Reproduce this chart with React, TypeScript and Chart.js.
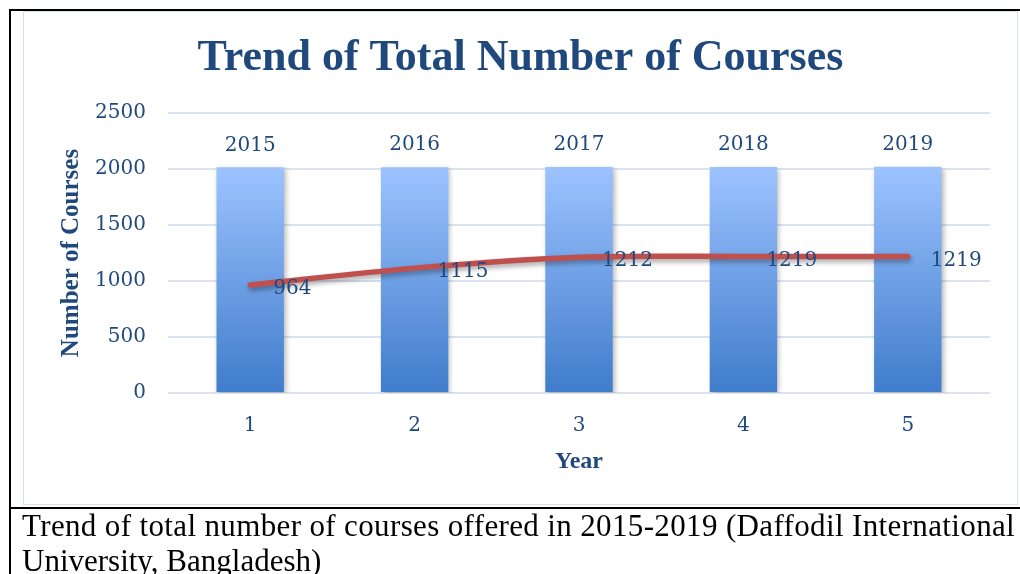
import React, { useEffect, useRef } from "react";
import { Chart, registerables } from "chart.js";

Chart.register(...registerables);

const categories = ["1", "2", "3", "4", "5"];
const yearValues = [2015, 2016, 2017, 2018, 2019];
const courseCounts = [964, 1115, 1212, 1219, 1219];
const yMin = 0;
const yMax = 2500;
const yStep = 500;

const chartTitle = "Trend of Total Number of Courses";
const xTitle = "Year";
const yTitle = "Number of Courses";
const captionLine1 = "Trend of total number of courses offered in 2015-2019 (Daffodil International";
const captionLine2 = "University, Bangladesh)";

const TEXT_BLUE = "#1F497D";
const NUM_FONT = "'DejaVu Serif', serif";
const BOLD_FONT = "'Liberation Serif', serif";

const shadowPlugin = {
  id: "shadows",
  beforeDatasetDraw(chart: any, args: any) {
    const ctx = chart.ctx;
    ctx.save();
    if (args.index === 0) {
      ctx.shadowColor = "rgba(0,0,0,0.28)";
      ctx.shadowBlur = 5;
      ctx.shadowOffsetX = 2;
      ctx.shadowOffsetY = 2;
    } else {
      ctx.shadowColor = "rgba(0,0,0,0.35)";
      ctx.shadowBlur = 5;
      ctx.shadowOffsetX = 1;
      ctx.shadowOffsetY = 3;
    }
  },
  afterDatasetDraw(chart: any) {
    chart.ctx.restore();
  },
};

const labelsPlugin = {
  id: "labels",
  afterDatasetsDraw(chart: any) {
    const ctx = chart.ctx;
    ctx.save();
    ctx.fillStyle = TEXT_BLUE;
    ctx.font = `20px ${NUM_FONT}`;
    const barMeta = chart.getDatasetMeta(0);
    ctx.textAlign = "center";
    ctx.textBaseline = "middle";
    barMeta.data.forEach((el: any, i: number) => {
      ctx.fillText(String(chart.data.datasets[0].data[i]), el.x, el.y - 22);
    });
    const lineMeta = chart.getDatasetMeta(1);
    ctx.textAlign = "left";
    lineMeta.data.forEach((el: any, i: number) => {
      ctx.fillText(String(chart.data.datasets[1].data[i]), el.x + 23, el.y + 4);
    });
    ctx.restore();
  },
  afterDraw(chart: any) {
    const ctx = chart.ctx;
    const area = chart.chartArea;
    ctx.save();
    ctx.fillStyle = TEXT_BLUE;
    ctx.textAlign = "center";
    ctx.textBaseline = "alphabetic";
    ctx.font = `bold 44px ${BOLD_FONT}`;
    ctx.fillText(chartTitle, chart.width / 2, 59);
    ctx.textBaseline = "middle";
    ctx.font = `bold 24px ${BOLD_FONT}`;
    ctx.fillText(xTitle, (area.left + area.right) / 2, 451);
    ctx.translate(49, (area.top + area.bottom) / 2);
    ctx.rotate(-Math.PI / 2);
    ctx.font = `bold 25px ${BOLD_FONT}`;
    ctx.fillText(yTitle, 0, 0);
    ctx.restore();
  },
};

export default function App() {
  const canvasRef = useRef<HTMLCanvasElement>(null);

  useEffect(() => {
    if (!canvasRef.current) return;
    const chart = new Chart(canvasRef.current, {
      type: "bar",
      data: {
        labels: categories,
        datasets: [
          {
            type: "bar",
            data: yearValues,
            order: 2,
            barPercentage: 0.41,
            categoryPercentage: 1,
            backgroundColor: (c: any) => {
              const ch = c.chart;
              const { chartArea, scales } = ch;
              if (!chartArea || !scales.y) return "#6FA0E6";
              const v = yearValues[c.dataIndex ?? 0] ?? yearValues[0];
              const y0 = scales.y.getPixelForValue(0);
              const y1 = scales.y.getPixelForValue(v);
              const g = ch.ctx.createLinearGradient(0, y1, 0, y0);
              g.addColorStop(0, "#9DC3FF");
              g.addColorStop(1, "#3F7CCB");
              return g;
            },
            borderWidth: 0,
          } as any,
          {
            type: "line",
            data: courseCounts,
            order: 1,
            borderColor: "#C0504D",
            borderWidth: 5.5,
            pointRadius: 0,
            tension: 0.3,
            borderCapStyle: "round",
            fill: false,
          } as any,
        ],
      },
      options: {
        animation: false,
        responsive: false,
        maintainAspectRatio: false,
        layout: { padding: { left: 0, top: 102, right: 28, bottom: 0 } },
        plugins: {
          legend: { display: false },
          title: { display: false },
          tooltip: { enabled: false },
        },
        scales: {
          x: {
            grid: { display: false },
            border: { display: false },
            ticks: {
              color: TEXT_BLUE,
              font: { family: NUM_FONT, size: 20 },
              padding: 13,
            },
            afterFit: (s: any) => {
              s.height = 112;
            },
          },
          y: {
            min: yMin,
            max: yMax,
            border: { display: false },
            grid: { color: "#D9E3F1", lineWidth: 2, drawTicks: false },
            ticks: {
              stepSize: yStep,
              color: TEXT_BLUE,
              font: { family: NUM_FONT, size: 20 },
              padding: 22,
              callback: (v: any) => String(v),
            },
            afterFit: (s: any) => {
              s.width = 145;
            },
          },
        },
      },
      plugins: [shadowPlugin, labelsPlugin],
    });
    return () => chart.destroy();
  }, []);

  return (
    <div
      style={{
        position: "absolute",
        left: 0,
        top: 0,
        width: 1020,
        height: 574,
        overflow: "hidden",
        background: "#fff",
      }}
    >
      <div style={{ position: "absolute", left: 9, top: 9, width: 1011, height: 2, background: "#000" }} />
      <div style={{ position: "absolute", left: 9, top: 9, width: 2, height: 565, background: "#000" }} />
      <div style={{ position: "absolute", left: 9, top: 507, width: 1011, height: 2, background: "#000" }} />
      <canvas
        ref={canvasRef}
        width={995}
        height={494}
        style={{ position: "absolute", left: 23, top: 11, width: 995, height: 494 }}
      />
      <div
        style={{
          position: "absolute",
          left: 23,
          top: 11,
          width: 995,
          height: 494,
          boxSizing: "border-box",
          border: "1px solid #D6E0F0",
          pointerEvents: "none",
        }}
      />
      <div
        style={{
          position: "absolute",
          left: 22,
          top: 508,
          whiteSpace: "nowrap",
          fontFamily: "'Liberation Serif', serif",
          fontSize: 31,
          lineHeight: "35px",
          color: "#000",
        }}
      >
        <span style={{ letterSpacing: "0.36px" }}>{captionLine1}</span>
        <br />
        <span>{captionLine2}</span>
      </div>
    </div>
  );
}
